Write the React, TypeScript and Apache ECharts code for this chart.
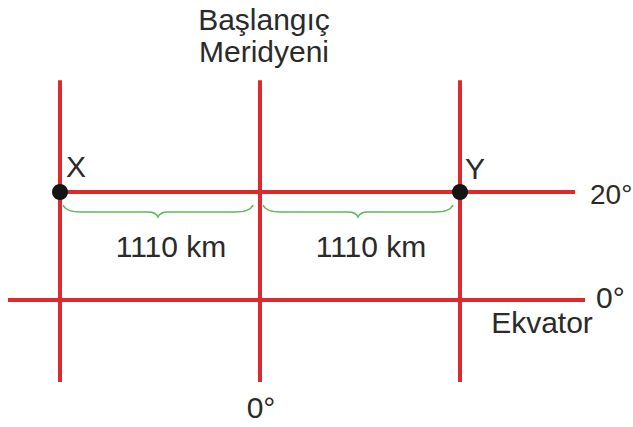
import React, { useEffect, useRef } from "react";
import * as echarts from "echarts";

// Meridians (longitude, degrees in the diagram's own frame)
const meridianLons = [-10, 0, 10];
const meridianSpan = [-15.2, 40.7];

// Parallels: latitude, west end, east end
const parallelLats = [20, 0];
const parallelFrom = [-10, -12.6];
const parallelTo = [15.75, 16.25];

// Points on the 20° parallel
const pointNames = ["X", "Y"];
const pointLons = [-10, 10];
const pointLat = 20;

// Distance braces between meridians
const braceFrom = [-9.85, 0.15];
const braceTo = [-0.35, 9.65];
const braceLabels = ["1110 km", "1110 km"];

// Texts
const titleLines = ["Başlangıç", "Meridyeni"];
const latLabels = ["20°", "0°"];
const equatorName = "Ekvator";
const primeLabel = "0°";

const RED = "#dc2a2e";
const GREEN = "#5cb85c";
const TEXT = "#2a2a2a";
const FONT = "'Liberation Sans', Arial, Helvetica, sans-serif";
const FS = 30;

export default function App() {
  const ref = useRef<HTMLDivElement>(null);
  useEffect(() => {
    if (!ref.current) return;
    const chart = echarts.init(ref.current, undefined, { renderer: "svg" });

    const lineData: any[] = [];
    meridianLons.forEach((lon) => {
      lineData.push({ coords: [[lon, meridianSpan[0]], [lon, meridianSpan[1]]] });
    });
    parallelLats.forEach((lat, i) => {
      lineData.push({ coords: [[parallelFrom[i], lat], [parallelTo[i], lat]] });
    });

    const braceData = braceFrom.map((f, i) => [f, braceTo[i], pointLat, braceLabels[i]]);

    const textStyle = (text: string, x: number, y: number, align = "center", fs = FS) => ({
      type: "text",
      x,
      y,
      style: {
        text,
        fill: TEXT,
        font: `${fs}px ${FONT}`,
        align,
        verticalAlign: "middle",
      },
    });

    chart.setOption({
      animation: false,
      backgroundColor: "#ffffff",
      grid: { left: 0, top: 30, width: 600, height: 378 },
      xAxis: { type: "value", min: -13, max: 17, show: false },
      yAxis: { type: "value", min: -20, max: 50, show: false },
      series: [
        {
          type: "lines",
          coordinateSystem: "cartesian2d",
          data: lineData,
          lineStyle: { color: RED, width: 4, opacity: 1, cap: "butt" },
          z: 2,
          silent: true,
        },
        {
          type: "custom",
          coordinateSystem: "cartesian2d",
          data: braceData,
          z: 3,
          renderItem: (params: any, api: any) => {
            const a = api.coord([api.value(0), api.value(2)]);
            const b = api.coord([api.value(1), api.value(2)]);
            const x1 = a[0];
            const x2 = b[0];
            const y0 = a[1];
            const mid = (x1 + x2) / 2;
            const d =
              `M${x1},${y0 + 13} Q${x1 + 3},${y0 + 20} ${x1 + 18},${y0 + 20} ` +
              `L${mid - 10},${y0 + 20} Q${mid - 2},${y0 + 20} ${mid},${y0 + 25} ` +
              `Q${mid + 2},${y0 + 20} ${mid + 10},${y0 + 20} ` +
              `L${x2 - 18},${y0 + 20} Q${x2 - 3},${y0 + 20} ${x2},${y0 + 13}`;
            return {
              type: "group",
              children: [
                {
                  type: "path",
                  shape: { pathData: d },
                  style: { stroke: GREEN, lineWidth: 1.5, fill: "none" },
                },
                {
                  type: "text",
                  x: mid + 13,
                  y: y0 + 54,
                  style: {
                    text: braceLabels[params.dataIndex],
                    fill: TEXT,
                    font: `${FS}px ${FONT}`,
                    align: "center",
                    verticalAlign: "middle",
                  },
                },
              ],
            };
          },
        },
        {
          type: "scatter",
          data: pointLons.map((lon, i) => ({
            value: [lon, pointLat],
            label: {
              show: true,
              formatter: pointNames[i],
              position: "top",
              offset: i === 0 ? [16, 2] : [15, 4],
              color: TEXT,
              fontSize: FS,
              fontFamily: FONT,
            },
          })),
          symbol: "circle",
          symbolSize: 16,
          itemStyle: { color: "#141414", opacity: 1 },
          z: 4,
          silent: true,
        },
      ],
      graphic: [
        textStyle(titleLines[0], 264, 19),
        textStyle(titleLines[1], 264, 51),
        textStyle(latLabels[0], 590, 194, "left", 28),
        textStyle(latLabels[1], 596, 297, "left"),
        textStyle(equatorName, 542, 322),
        textStyle(primeLabel, 261, 407),
      ],
    });
    return () => chart.dispose();
  }, []);
  return (
    <div
      ref={ref}
      style={{ position: "fixed", left: 0, top: 0, width: 633, height: 427, background: "#fff" }}
    />
  );
}
